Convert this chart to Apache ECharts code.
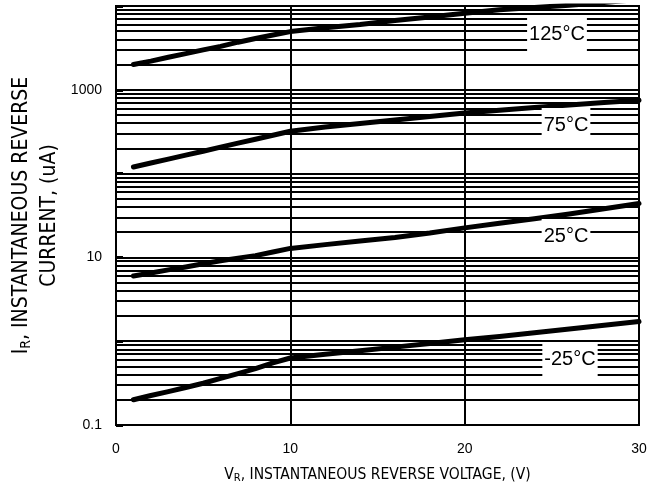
<!DOCTYPE html>
<html>
<head>
<meta charset="utf-8">
<script src="https://cdn.jsdelivr.net/npm/echarts@6/dist/echarts.min.js"></script>
<style>
  html, body { margin: 0; padding: 0; background: #fff; }
  #chart { width: 663px; height: 489px; }
</style>
</head>
<body>
<div id="chart"></div>
<script>
// reverse voltage (V)
const vr = [1, 2, 3, 4, 5, 6, 7, 8, 9, 10, 12, 14, 16, 18, 20, 22, 24, 26, 28, 30];
// reverse current (uA) per temperature
const ir125 = [2000, 2200, 2450, 2700, 3000, 3300, 3700, 4100, 4500, 4950, 5500, 6000, 6700, 7400, 8200, 9000, 9600, 10200, 11000, 12000];
const ir75 = [120, 134, 149, 166, 185, 207, 231, 257, 287, 320, 360, 395, 435, 480, 530, 570, 615, 660, 705, 750];
const ir25 = [6, 6.5, 7.1, 7.7, 8.4, 9.1, 9.8, 10.5, 11.6, 12.8, 14.2, 15.7, 17.3, 19.5, 22.5, 25.5, 29, 33, 38, 44];
const irm25 = [0.2, 0.225, 0.25, 0.28, 0.315, 0.36, 0.41, 0.47, 0.55, 0.63, 0.7, 0.77, 0.85, 0.94, 1.04, 1.14, 1.26, 1.4, 1.55, 1.72];

const tempNames = ['125°C', '75°C', '25°C', '-25°C'];
const yTickLabels = ['0.1', '10', '1000'];
const xTicks = [0, 10, 20, 30];

// minor log gridlines 2..9 in every decade
const decades = [0.1, 1, 10, 100, 1000];
const mantissas = [2, 3, 4, 5, 6, 7, 8, 9];
const minorLines = [];
decades.forEach(d => mantissas.forEach(m => minorLines.push({ yAxis: +(m * d).toPrecision(3) })));

const font = 'Liberation Sans, Arial, sans-serif';
const narrow = '"Liberation Sans Narrow", "DejaVu Sans Condensed", "Arial Narrow", sans-serif';

function curve(name, vals) {
  return {
    name: name,
    type: 'line',
    data: vr.map((x, i) => [x, vals[i]]),
    showSymbol: false,
    clip: true,
    lineStyle: { color: '#000', width: 5, cap: 'round', join: 'round' },
    z: 5
  };
}

const chart = echarts.init(document.getElementById('chart'));

chart.setOption({
  animation: false,
  backgroundColor: '#fff',
  textStyle: { fontFamily: font },
  grid: {
    left: 116, right: 24, top: 6, bottom: 64,
    outerBoundsMode: 'none',
    containLabel: false,
    show: true, borderColor: '#000', borderWidth: 2
  },
  xAxis: {
    type: 'value',
    min: 0, max: 30, interval: 10,
    name: '{t|V}{s|R}{t|, INSTANTANEOUS REVERSE VOLTAGE, (V)}',
    nameLocation: 'middle',
    nameGap: 40,
    nameTextStyle: {
      rich: {
        t: { fontSize: 15.5, color: '#000', fontFamily: narrow },
        s: { fontSize: 11, color: '#000', fontFamily: narrow, padding: [8, 0, 0, 0] }
      }
    },
    axisLine: { lineStyle: { color: '#000', width: 2 } },
    axisTick: { show: false },
    axisLabel: {
      color: '#000', fontSize: 14, margin: 17, fontFamily: font,
      formatter: v => xTicks.includes(v) ? String(v) : ''
    },
    splitLine: { show: true, lineStyle: { color: '#000', width: 2 } }
  },
  yAxis: {
    type: 'log',
    logBase: 10,
    min: 0.1, max: 10000,
    name: '{t|I}{s|R}{t|, INSTANTANEOUS REVERSE}\n{t|CURRENT, (uA)}',
    nameLocation: 'middle',
    nameRotate: 90,
    nameGap: 52,
    nameMoveOverlap: false,
    nameTextStyle: {
      lineHeight: 28,
      rich: {
        t: { fontSize: 21, color: '#000', fontFamily: narrow, lineHeight: 28 },
        s: { fontSize: 14, color: '#000', fontFamily: narrow, padding: [9, 0, 0, 0] }
      }
    },
    axisLine: { show: true, lineStyle: { color: '#000', width: 2 } },
    axisTick: { show: true, inside: true, length: 7, lineStyle: { color: '#000', width: 3 } },
    axisLabel: {
      color: '#000', fontSize: 14, margin: 14, fontFamily: font,
      formatter: v => {
        const s = String(+v.toPrecision(3));
        return yTickLabels.includes(s) ? s : '';
      }
    },
    splitLine: { show: true, lineStyle: { color: '#000', width: 2 } }
  },
  series: [
    curve(tempNames[0], ir125),
    curve(tempNames[1], ir75),
    curve(tempNames[2], ir25),
    curve(tempNames[3], irm25),
    {
      name: 'minor',
      type: 'line',
      data: [],
      silent: true,
      markLine: {
        silent: true,
        symbol: 'none',
        label: { show: false },
        lineStyle: { color: '#000', width: 2, type: 'solid' },
        emphasis: { disabled: true },
        data: minorLines
      },
      z: 1
    }
  ],
  graphic: [
    { type: 'text', x: 557, y: 34, z: 100, style: { text: tempNames[0], font: '20px ' + font, fill: '#000', align: 'center', verticalAlign: 'middle', backgroundColor: '#fff', padding: [7, 2, 7, 2] } },
    { type: 'text', x: 566, y: 125, z: 100, style: { text: tempNames[1], font: '20px ' + font, fill: '#000', align: 'center', verticalAlign: 'middle', backgroundColor: '#fff', padding: [7, 2, 7, 2] } },
    { type: 'text', x: 566, y: 236, z: 100, style: { text: tempNames[2], font: '20px ' + font, fill: '#000', align: 'center', verticalAlign: 'middle', backgroundColor: '#fff', padding: [7, 2, 7, 2] } },
    { type: 'text', x: 570, y: 359, z: 100, style: { text: tempNames[3], font: '20px ' + font, fill: '#000', align: 'center', verticalAlign: 'middle', backgroundColor: '#fff', padding: [7, 2, 7, 2] } }
  ]
});
</script>
</body>
</html>
